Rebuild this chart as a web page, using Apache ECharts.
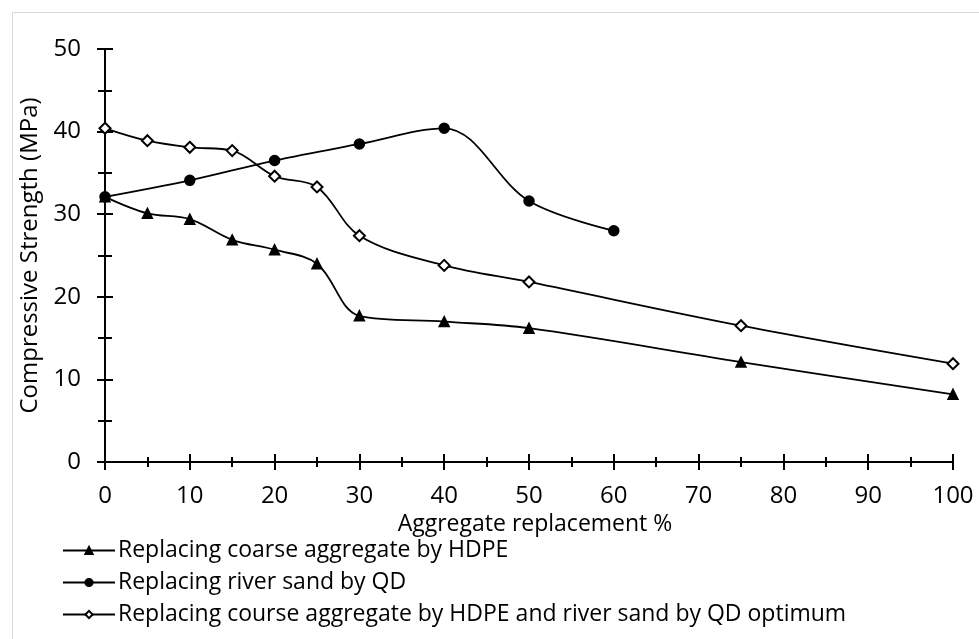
<!DOCTYPE html>
<html>
<head>
<meta charset="utf-8">
<script src="https://cdn.jsdelivr.net/npm/echarts@6/dist/echarts.min.js"></script>
<style>
    html, body { margin: 0; padding: 0; background: #fff; }
    #container { width: 979px; height: 639px; }
</style>
</head>
<body>
<div id="container"></div>
<script>
var FONT = '"Open Sans", "Noto Sans", sans-serif';

// x values (aggregate replacement %)
var xHdpe = [0, 5, 10, 15, 20, 25, 30, 40, 50, 75, 100];
var xQd = [0, 10, 20, 30, 40, 50, 60];
var xBoth = [0, 5, 10, 15, 20, 25, 30, 40, 50, 75, 100];

// compressive strength (MPa)
var yHdpe = [32.1, 30.1, 29.4, 26.9, 25.7, 24.0, 17.7, 17.0, 16.2, 12.1, 8.2];
var yQd = [32.1, 34.1, 36.5, 38.5, 40.4, 31.6, 28.0];
var yBoth = [40.4, 38.9, 38.1, 37.7, 34.6, 33.3, 27.4, 23.8, 21.8, 16.5, 11.9];

var seriesNames = [
    'Replacing coarse aggregate by HDPE',
    'Replacing river sand by QD',
    'Replacing course aggregate by HDPE and river sand by QD optimum'
];

function pairs(xs, ys) {
    return xs.map(function (x, i) { return [x, ys[i]]; });
}

function makeSeries(name, data, symbol, size) {
    return {
        name: name,
        type: 'line',
        data: data,
        smooth: 0.35,
        symbol: symbol,
        symbolSize: size,
        showSymbol: true,
        lineStyle: { color: '#000', width: 1.8 },
        itemStyle: { color: '#000', borderColor: '#000', borderWidth: 1.5 },
        z: 5
    };
}

var tickOut = function (inside, len, minorLen) {
    return {
        axisTick: { show: true, inside: inside, length: len, lineStyle: { color: '#000', width: 2 } },
        minorTick: { show: true, splitNumber: 2, length: minorLen, lineStyle: { color: '#000', width: 2 } }
    };
};

var myChart = echarts.init(document.getElementById('container'));

var xOuter = Object.assign({
    type: 'value', min: 0, max: 100, interval: 10, position: 'bottom',
    axisLine: { show: true, lineStyle: { color: '#000', width: 2 } },
    axisLabel: { show: true, color: '#000', fontFamily: FONT, fontSize: 24, margin: 25, lineHeight: 18 },
    splitLine: { show: false },
    name: 'Aggregate replacement %', nameLocation: 'middle', nameGap: 45,
    nameTextStyle: { color: '#000', fontFamily: FONT, fontSize: 23, lineHeight: 24, padding: [0, 0, 0, 12] }
}, tickOut(false, 8, 5));

var xInner = Object.assign({
    type: 'value', min: 0, max: 100, interval: 10, position: 'bottom',
    axisLine: { show: false },
    axisLabel: { show: false },
    splitLine: { show: false }
}, tickOut(true, 8, 5));

var yOuter = Object.assign({
    type: 'value', min: 0, max: 50, interval: 10, position: 'left',
    axisLine: { show: true, lineStyle: { color: '#000', width: 2 } },
    axisLabel: { show: true, color: '#000', fontFamily: FONT, fontSize: 24, margin: 24 },
    splitLine: { show: false },
    name: 'Compressive Strength (MPa)', nameLocation: 'middle', nameGap: 62,
    nameTextStyle: { color: '#000', fontFamily: FONT, fontSize: 24 }
}, tickOut(false, 8, 7));

var yInner = Object.assign({
    type: 'value', min: 0, max: 50, interval: 10, position: 'left',
    axisLine: { show: false },
    axisLabel: { show: false },
    splitLine: { show: false }
}, tickOut(true, 8, 7));

var option = {
    animation: false,
    backgroundColor: '#fff',
    textStyle: { fontFamily: FONT },
    grid: { left: 105, right: 26, top: 49, bottom: 177, containLabel: false },
    graphic: [{
        type: 'rect', left: 10, top: 10, silent: true, z: -10,
        shape: { width: 967, height: 627 },
        style: { fill: 'none', stroke: '#d9d9d9', lineWidth: 1 }
    }],
    legend: {
        orient: 'vertical', left: 57, top: 534, itemGap: 9,
        itemWidth: 52, itemHeight: 9,
        textStyle: { color: '#000', fontFamily: FONT, fontSize: 23, padding: [0, 0, 0, -2] },
        data: seriesNames
    },
    xAxis: [xOuter, xInner],
    yAxis: [yOuter, yInner],
    series: [
        makeSeries(seriesNames[0], pairs(xHdpe, yHdpe), 'triangle', 10),
        makeSeries(seriesNames[1], pairs(xQd, yQd), 'circle', 10),
        makeSeries(seriesNames[2], pairs(xBoth, yBoth), 'emptyDiamond', 11)
    ]
};

myChart.setOption(option);
</script>
</body>
</html>
